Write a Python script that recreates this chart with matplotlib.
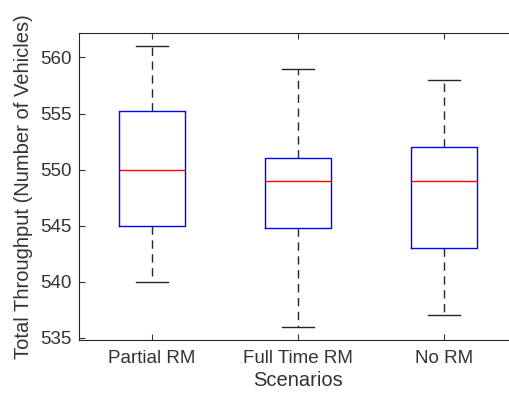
import matplotlib
matplotlib.use('Agg')
import matplotlib.pyplot as plt

# box statistics
scenarios = ['Partial RM', 'Full Time RM', 'No RM']
whislo = [540, 536, 537]
q1 = [545, 544.75, 543]
med = [550, 549, 549]
q3 = [555.25, 551, 552]
whishi = [561, 559, 558]

plt.rcParams['font.family'] = ['Liberation Sans', 'DejaVu Sans']
TXT = '#333333'

fig = plt.figure(figsize=(5.1, 4.0), dpi=100)
ax = fig.add_axes([0.154, 0.15, 0.86, 0.768])

stats = []
for i, name in enumerate(scenarios):
    stats.append({'label': name, 'whislo': whislo[i], 'q1': q1[i], 'med': med[i],
                  'q3': q3[i], 'whishi': whishi[i], 'fliers': []})

ax.bxp(stats, positions=[1, 2, 3], widths=0.45, showfliers=False,
       boxprops=dict(color='#0000ff', linewidth=1.0),
       medianprops=dict(color='#ff0000', linewidth=1.0),
       whiskerprops=dict(color='#262626', linewidth=1.0, linestyle=(0, (6, 4))),
       capprops=dict(color='#262626', linewidth=1.0),
       capwidths=0.22)

ax.set_xlim(0.5, 3.5)
ax.set_ylim(534.8, 562.2)
ax.set_yticks([535, 540, 545, 550, 555, 560])
ax.tick_params(direction='in', top=True, right=False, colors=TXT, labelsize=13.5, length=4)
ax.tick_params(axis='x', pad=7)
ax.tick_params(axis='y', pad=5)
for s in ax.spines.values():
    s.set_color('#262626')
    s.set_linewidth(0.8)
ax.spines['right'].set_visible(False)

ax.set_xlabel('Scenarios', fontsize=14.5, color=TXT, labelpad=3)
ax.set_ylabel('Total Throughput (Number of Vehicles)', fontsize=14.5, color=TXT, labelpad=5)

fig.savefig('out.png', dpi=100)
